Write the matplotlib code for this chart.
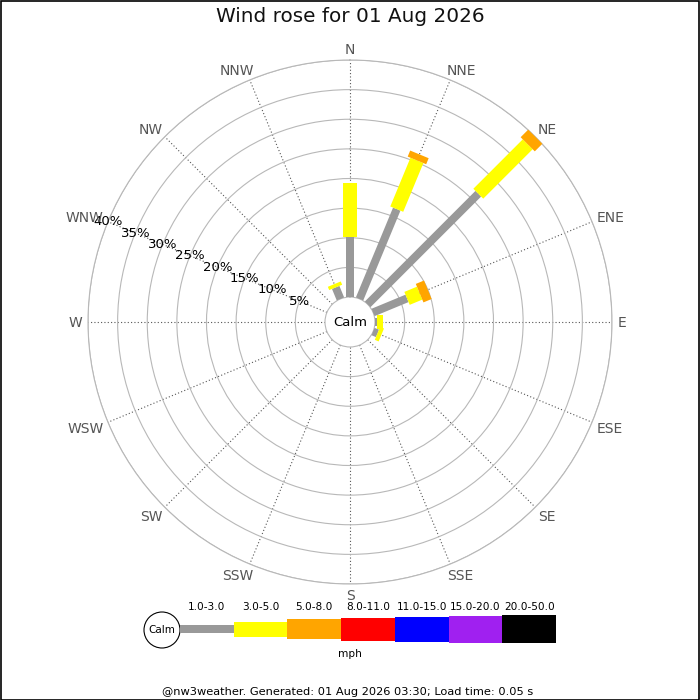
import numpy as np
import matplotlib
matplotlib.use("Agg")
import matplotlib.pyplot as plt
from matplotlib.patches import Rectangle, Circle

# ---------------- data ----------------
directions = ["N", "NNE", "NE", "ENE", "E", "ESE", "SE", "SSE",
              "S", "SSW", "SW", "WSW", "W", "WNW", "NW", "NNW"]
speed_bins = ["1.0-3.0", "3.0-5.0", "5.0-8.0", "8.0-11.0",
              "11.0-15.0", "15.0-20.0", "20.0-50.0"]
bin_colors = ["#999999", "#ffff00", "#ffa500", "#ff0000",
              "#0000ff", "#a020f0", "#000000"]
# percentage of time in each speed bin, per direction (non-cumulative)
freq_1_3 = [10.2, 16.4, 26.4, 6.2, 0.4, 0.8, 0, 0, 0, 0, 0, 0, 0, 0, 0, 2.1]
freq_3_5 = [9.0, 8.9, 11.8, 2.3, 1.0, 0.7, 0, 0, 0, 0, 0, 0, 0, 0, 0, 0.6]
freq_5_8 = [0, 1.1, 1.8, 1.5, 0, 0, 0, 0, 0, 0, 0, 0, 0, 0, 0, 0]
freq_8_11 = [0] * 16
freq_11_15 = [0] * 16
freq_15_20 = [0] * 16
freq_20_50 = [0] * 16
ring_pcts = [5, 10, 15, 20, 25, 30, 35, 40]
title = "Wind rose for 01 Aug 2026"
footer = "@nw3weather. Generated: 01 Aug 2026 03:30; Load time: 0.05 s"
unit = "mph"

series = [freq_1_3, freq_3_5, freq_5_8, freq_8_11, freq_11_15, freq_15_20, freq_20_50]

# ---------------- layout / style ----------------
W = H = 700
CX, CY = 350, 322          # centre of rose (px, from top)
R_OUT = 262                # outer ring radius (px)
R_CALM = 25                # calm circle radius (px)
RMAX = ring_pcts[-1]
PX_PER_PCT = (R_OUT - R_CALM) / RMAX
OFFSET = R_CALM / PX_PER_PCT
bar_px = [8, 14, 20, 23, 25, 27, 28]
leg_px = [8, 15, 20, 23, 25, 27, 28]
RING_C = "#b8b8b8"
SPOKE_C = "#555555"
LAB_C = "#555555"
LABEL_R = R_OUT + 5.7      # px
CAP_H = 10.4               # px: cap height of direction labels

fig = plt.figure(figsize=(7, 7), dpi=100)
fig.patch.set_facecolor("white")

ax = fig.add_axes([(CX - R_OUT) / W, (H - CY - R_OUT) / H, 2 * R_OUT / W, 2 * R_OUT / H],
                  projection="polar")
ax.set_theta_zero_location("N")
ax.set_theta_direction(-1)
ax.set_rorigin(-OFFSET)
ax.set_ylim(0, RMAX)

angles = np.deg2rad(np.arange(16) * 22.5)
ax.set_xticks(angles)
ax.set_xticklabels([])
ax.set_yticks(ring_pcts)
ax.set_yticklabels([])
ax.tick_params(length=0)
ax.yaxis.grid(True, color=RING_C, lw=0.8, ls="-")
ax.xaxis.grid(True, color=SPOKE_C, lw=0.8, ls=(0, (1, 2)))
for s in ax.spines.values():
    s.set_color(RING_C)
    s.set_linewidth(0.8)

# bars
for j in range(16):
    base = 0.0
    for k, vals in enumerate(series):
        v = vals[j]
        if v <= 0:
            continue
        ax.plot([angles[j], angles[j]], [base, base + v], color=bin_colors[k],
                lw=bar_px[k] * 0.72, solid_capstyle="butt", clip_on=False, zorder=3)
        base += v

# ring labels
lab_th = np.deg2rad(292.5)
for p in ring_pcts:
    ax.text(lab_th, p, f"{p}%", ha="center", va="center", fontsize=9.5,
            color="black", clip_on=False, zorder=4)

ax.text(0.5, 0.5, "Calm", transform=ax.transAxes, ha="center", va="center",
        fontsize=9.5, color="black")

# title
fig.text(0.5, 1 - 16 / H, title, ha="center", va="center", fontsize=14.4, color="#111111")

# overlay in pixel coordinates (labels + legend)
lax = fig.add_axes([0, 0, 1, 1])
lax.set_xlim(0, W)
lax.set_ylim(H, 0)
lax.axis("off")

# direction labels just outside the outer ring, pushed out by their own size
renderer = fig.canvas.get_renderer()
for j, name in enumerate(directions):
    th = angles[j]
    s, c = np.sin(th), np.cos(th)
    t = lax.text(0, 0, name, ha="center", va="baseline", fontsize=10, color=LAB_C)
    w = t.get_window_extent(renderer).width
    xc = CX + LABEL_R * s + np.sign(s) * np.sqrt(abs(s)) * w / 2
    yc = CY - LABEL_R * c - np.sign(c) * np.sqrt(abs(c)) * CAP_H / 2
    t.set_position((xc, yc + CAP_H / 2))

# legend
LEG_Y = 629
LEG_CX, LEG_R = 162, 18
LEG_SEG = (556 - (LEG_CX + LEG_R)) / len(speed_bins)
lax.add_patch(Circle((LEG_CX, LEG_Y + 1), LEG_R, fill=False, ec="black", lw=0.8))
lax.text(LEG_CX, LEG_Y + 1, "Calm", ha="center", va="center", fontsize=7.5)
for k, lab in enumerate(speed_bins):
    x0 = LEG_CX + LEG_R + k * LEG_SEG
    h = leg_px[k]
    lax.add_patch(Rectangle((x0, LEG_Y - h / 2), LEG_SEG, h, color=bin_colors[k], lw=0))
    lax.text(x0 + LEG_SEG / 2, 607, lab, ha="center", va="center", fontsize=7.6)
lax.text(350, 654, unit, ha="center", va="center", fontsize=7.6)
lax.text(348, 692, footer, ha="center", va="center", fontsize=8.2)

# frame border
fig.patches.append(Rectangle((0.5 / W, 0.5 / H), 1 - 1.5 / W, 1 - 1.5 / H,
                             transform=fig.transFigure, fill=False, ec="black", lw=1.2))

fig.savefig("out.png", dpi=100)
